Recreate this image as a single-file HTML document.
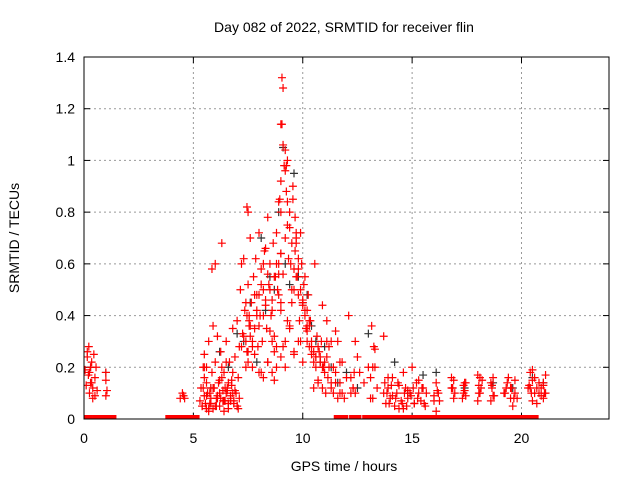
<!DOCTYPE html>
<html><head><meta charset="utf-8"><style>
body{margin:0;background:#fff}
svg{display:block;font-family:"Liberation Sans",sans-serif}
</style></head><body>
<svg id="chart" width="640" height="480">
<defs><clipPath id="pc"><rect x="84" y="57" width="525" height="362"/></clipPath></defs>
<text x="344" y="32" font-size="14" text-anchor="middle">Day 082 of 2022, SRMTID for receiver flin</text>
<text x="344" y="471" font-size="14" text-anchor="middle">GPS time / hours</text>
<text transform="translate(19,238) rotate(-90)" font-size="14" text-anchor="middle">SRMTID / TECUs</text>
<g id="grid"></g><g id="ticks"></g><g id="blk" clip-path="url(#pc)"></g><g id="red" clip-path="url(#pc)"></g>
<rect x="84" y="57" width="525" height="362" fill="none" stroke="#000" stroke-width="1"/>
</svg>
<script>
const xTicks=[0,5,10,15,20];
const yTicks=[0,0.2,0.4,0.6,0.8,1,1.2,1.4];
const yLabels=["0","0.2","0.4","0.6","0.8","1","1.2","1.4"];
const redT=[0.05,0.1,0.15,0.2,0.22,0.25,0.3,0.3,0.35,0.4,0.4,0.45,0.5,0.5,0.55,0.6,0.15,0.25,0.35,1.0,1.0,1.05,1.0,
4.4,4.5,4.55,4.6,
5.3,5.35,5.4,5.45,5.5,5.5,5.6,5.6,5.7,5.75,5.8,5.85,5.9,5.95,6.0,6.0,6.05,6.1,6.15,6.2,6.25,6.3,6.35,6.4,6.45,6.5,6.55,6.6,6.65,6.7,6.75,6.8,6.85,6.9,6.95,7.0,7.05,7.1,7.15,5.8,5.85,6.2,5.6,5.9,6.3,6.1,6.6,6.8,7.0,6.4,6.7,
7.2,7.25,7.3,7.35,7.4,7.45,7.5,7.55,7.6,7.65,7.7,7.75,7.8,7.85,7.9,7.95,8.0,8.05,8.1,8.15,8.2,8.25,8.3,8.35,8.4,8.45,8.5,8.55,8.6,8.65,8.7,8.75,8.8,8.85,8.9,8.95,9.0,9.0,9.05,9.1,9.15,9.2,9.25,9.3,9.35,9.4,9.45,9.5,9.55,9.6,9.65,9.7,9.75,9.8,9.85,9.9,9.95,10.0,10.05,10.1,10.15,10.2,10.25,10.3,10.35,10.4,
7.3,7.5,7.6,7.8,7.9,8.1,8.2,8.4,8.5,8.7,8.8,9.0,9.1,9.2,9.4,9.5,9.6,9.8,9.9,10.0,10.2,10.3,7.4,7.7,8.0,8.3,8.6,8.9,9.3,9.7,10.1,
7.45,7.55,8.9,9.0,9.05,9.1,9.2,9.25,9.3,9.55,9.65,9.7,7.2,9.0,9.0,8.7,
10.5,10.55,10.6,10.65,10.7,10.75,10.8,10.85,10.9,10.95,11.0,11.05,11.1,11.15,11.2,11.3,11.4,11.5,11.6,11.7,11.8,11.9,12.0,12.2,12.3,12.4,12.5,12.6,12.8,13.0,13.1,13.2,13.3,13.4,10.5,10.7,10.9,11.1,11.3,11.5,11.7,12.1,12.35,13.15,13.25,
13.7,13.8,13.9,14.0,14.1,14.2,14.3,14.4,14.5,14.6,14.7,14.8,14.9,15.0,15.1,15.2,15.3,15.4,15.5,15.6,13.9,14.1,14.4,14.6,14.8,15.1,15.3,
16.0,16.1,16.1,16.2,16.25,16.8,16.8,16.85,16.9,16.95,17.3,17.35,17.4,17.4,17.45,18.0,18.0,18.05,18.1,18.1,18.2,18.6,18.6,18.65,18.7,18.7,19.2,19.3,19.4,19.5,19.5,19.6,19.7,19.7,19.8,20.3,20.4,20.4,20.5,20.5,20.6,20.7,20.8,20.9,20.9,21.0,21.0,21.1,21.1,20.5,20.7,
5.4,5.5,5.55,5.65,5.7,5.8,5.9,6.0,6.1,6.2,6.3,6.35,6.45,6.5,6.6,6.7,6.75,6.85,6.9,7.0,7.1,5.45,5.75,6.05,6.25,6.55,6.8,7.05,5.5,5.6,5.7,6.4,6.5,6.6,
7.4,7.45,7.5,7.5,7.55,7.6,7.7,7.8,7.9,8.0,8.1,8.2,8.3,8.4,8.5,8.6,8.7,8.8,8.9,9.0,9.1,9.2,9.3,9.4,9.5,9.6,9.7,9.8,9.9,10.0,10.1,10.2,10.3,10.4,10.5,10.6,10.7,10.8,10.9,11.0,
8.0,8.2,8.4,8.6,8.8,9.0,9.2,9.4,9.6,9.8,10.0,10.2,10.4,10.6,
11.1,11.2,11.3,11.4,11.5,11.6,11.7,11.8,12.2,12.3,12.4,13.1,13.2,13.3,
13.7,13.75,13.85,13.95,14.05,14.25,14.35,14.55,14.65,14.75,14.95,15.05,15.25,15.45,15.55,15.65,
16.0,16.15,16.85,16.9,17.35,17.45,18.05,18.15,18.65,18.75,19.25,19.35,19.55,19.65,20.35,20.45,20.6,20.8,21.0,21.05];
const redV=[0.19,0.13,0.24,0.17,0.28,0.1,0.2,0.14,0.22,0.12,0.08,0.25,0.16,0.09,0.2,0.11,0.26,0.18,0.14,0.18,0.15,0.11,0.09,
0.08,0.1,0.09,0.08,
0.07,0.12,0.05,0.2,0.09,0.25,0.14,0.04,0.3,0.1,0.06,0.18,0.36,0.12,0.6,0.22,0.08,0.32,0.14,0.05,0.26,0.68,0.11,0.18,0.07,0.3,0.12,0.04,0.22,0.08,0.15,0.35,0.06,0.24,0.1,0.38,0.16,0.28,0.5,0.12,0.58,0.1,0.2,0.04,0.16,0.08,0.06,0.1,0.05,0.03,0.07,0.28,0.33,
0.62,0.42,0.3,0.82,0.52,0.38,0.7,0.45,0.2,0.55,0.35,0.62,0.48,0.28,0.72,0.4,0.58,0.3,0.5,0.65,0.44,0.35,0.78,0.52,0.6,0.4,0.46,0.68,0.32,0.55,0.72,0.5,0.6,0.85,0.42,0.92,1.32,1.28,0.98,1.04,0.88,0.75,0.62,0.8,0.6,0.45,0.9,0.5,0.65,0.7,0.55,0.48,0.38,0.72,0.6,0.45,0.52,0.42,0.35,0.3,0.48,0.28,0.38,0.25,0.32,0.22,
0.32,0.25,0.4,0.18,0.6,0.22,0.34,0.26,0.2,0.45,0.28,0.2,0.36,0.5,0.25,0.58,0.3,0.44,0.34,0.38,0.45,0.28,0.48,0.66,0.3,0.56,0.38,0.68,0.55,0.4,0.36,
0.84,0.8,1.14,1.06,0.96,0.98,1.0,0.85,0.78,0.72,0.6,0.64,1.14,0.15,0.12,0.6,
0.2,0.32,0.14,0.26,0.22,0.3,0.12,0.2,0.18,0.1,0.24,0.16,0.28,0.12,0.2,0.14,0.3,0.1,0.22,0.08,0.16,0.1,0.12,0.3,0.24,0.18,0.14,0.2,0.08,0.2,0.27,0.12,0.22,0.15,0.44,0.38,0.3,0.34,0.22,0.4,0.18,0.36,0.28,0.32,0.06,
0.12,0.08,0.16,0.05,0.1,0.13,0.07,0.04,0.12,0.08,0.1,0.2,0.06,0.14,0.1,0.07,0.12,0.05,0.16,0.09,0.04,0.18,0.11,0.06,0.15,0.09,0.03,
0.14,0.1,0.07,0.12,0.16,0.12,0.15,0.1,0.08,0.13,0.14,0.11,0.09,0.17,0.07,0.13,0.16,0.1,0.15,0.07,0.14,0.12,0.09,0.16,0.1,0.12,0.16,0.08,0.12,0.05,0.1,0.15,0.08,0.12,0.18,0.12,0.07,0.15,0.1,0.06,0.14,0.09,0.12,0.08,0.13,0.17,0.1,0.19,0.12,0.05,0.16,
0.06,0.1,0.04,0.08,0.12,0.05,0.09,0.15,0.2,0.07,0.12,0.1,0.06,0.09,0.13,0.07,0.11,0.05,0.08,0.12,0.06,0.05,0.08,0.11,0.18,0.04,0.2,0.09,0.03,0.07,0.22,0.14,0.2,0.26,
0.8,0.26,0.4,0.36,0.3,0.48,0.42,0.36,0.52,0.4,0.46,0.56,0.5,0.42,0.55,0.6,0.48,0.64,0.56,0.7,0.84,0.74,0.68,0.58,0.55,0.62,0.5,0.46,0.4,0.42,0.36,0.3,0.26,0.24,0.28,0.24,0.2,0.22,0.18,0.16,
0.22,0.18,0.28,0.24,0.3,0.35,0.26,0.3,0.22,0.36,0.28,0.24,0.3,0.2,
0.14,0.1,0.18,0.08,0.14,0.1,0.16,0.12,0.1,0.16,0.08,0.2,0.1,0.14,
0.1,0.06,0.13,0.08,0.14,0.06,0.1,0.05,0.09,0.12,0.08,0.12,0.06,0.1,0.07,0.11,
0.12,0.08,0.1,0.14,0.1,0.12,0.13,0.09,0.1,0.14,0.12,0.08,0.13,0.1,0.16,0.1,0.14,0.1,0.11,0.14];
const blkT=[0.3,1.0,5.8,6.2,6.6,7.0,7.3,7.6,7.9,8.1,8.3,8.5,8.7,8.9,9.1,9.2,9.4,9.6,9.8,10.0,10.2,10.4,10.6,10.8,11.0,11.3,11.6,12.0,12.5,13.0,14.2,14.8,15.5,16.1,17.4,18.7,19.6,20.5,21.0];
const blkV=[0.2,0.18,0.12,0.26,0.2,0.33,0.3,0.45,0.22,0.7,0.42,0.55,0.5,0.8,1.05,0.6,0.52,0.95,0.55,0.45,0.48,0.36,0.3,0.22,0.28,0.2,0.14,0.18,0.12,0.33,0.22,0.1,0.17,0.18,0.12,0.14,0.12,0.16,0.14];
const zeroT=[0.1,0.2,0.55,0.65,0.75,0.95,1.05,1.15,1.3,3.9,4.1,4.2,4.3,4.4,4.5,4.65,4.8,4.9,5.0,5.1,11.6,11.9,12.3,12.5,12.9,13.2,13.5,13.7,13.9,14.1,14.4,14.6,14.8,15.1,15.3,15.6,15.8,16.0,16.3,16.5,16.7,17.0,17.3,17.5,17.8,18.0,18.3,18.6,18.8,19.1,19.3,19.6,19.8,20.1,20.3,20.6];

const X0=84,X1=609,Y0=419,Y1=57,XMAX=24,YMAX=1.4;
const sx=t=>X0+t*(X1-X0)/XMAX, sy=v=>Y0-v*(Y0-Y1)/YMAX;
const NS="http://www.w3.org/2000/svg";
function mk(tag,attrs,parent){const e=document.createElementNS(NS,tag);for(const k in attrs)e.setAttribute(k,attrs[k]);parent.appendChild(e);return e;}
const grid=document.getElementById('grid'),ticks=document.getElementById('ticks');
xTicks.forEach(t=>{const x=sx(t);
 if(t>0){const g=mk('line',{x1:x,x2:x,y1:Y1,y2:Y0,stroke:'#999','stroke-dasharray':'2,3'},grid);
 
 }
 mk('line',{x1:x,x2:x,y1:Y0,y2:Y0-6,stroke:'#000'},ticks);mk('line',{x1:x,x2:x,y1:Y1,y2:Y1+6,stroke:'#000'},ticks);
 const l=mk('text',{x:x,y:Y0+24,'font-size':14,'text-anchor':'middle'},ticks);l.textContent=t;
 
 });
yTicks.forEach((v,i)=>{const y=sy(v);
 if(v>0&&v<1.4){const g=mk('line',{x1:X0,x2:X1,y1:y,y2:y,stroke:'#999','stroke-dasharray':'2,3'},grid);
 
 }
 mk('line',{x1:X0,x2:X0+6,y1:y,y2:y,stroke:'#000'},ticks);mk('line',{x1:X1,x2:X1-6,y1:y,y2:y,stroke:'#000'},ticks);
 const l=mk('text',{x:X0-9,y:y+5,'font-size':14,'text-anchor':'end'},ticks);l.textContent=yLabels[i];
 
 });
function plus(g,t,v,c){const x=sx(t),y=sy(v);
 return mk('path',{d:`M${x-4},${y}h8M${x},${y-4}v8`,stroke:c,'stroke-width':1.2,fill:'none'},g);}
const blk=document.getElementById('blk'),red=document.getElementById('red');
blkT.forEach((t,i)=>{const p=plus(blk,t,blkV[i],'#333');
 
 });
redT.forEach((t,i)=>{const p=plus(red,t,redV[i],'#f00');
 
 });
zeroT.forEach(t=>{const x=sx(t);
 const r=mk('rect',{x:x-4,y:Y0-4,width:8,height:4,fill:'#f00'},red);
 
 });
</script>
</body></html>
